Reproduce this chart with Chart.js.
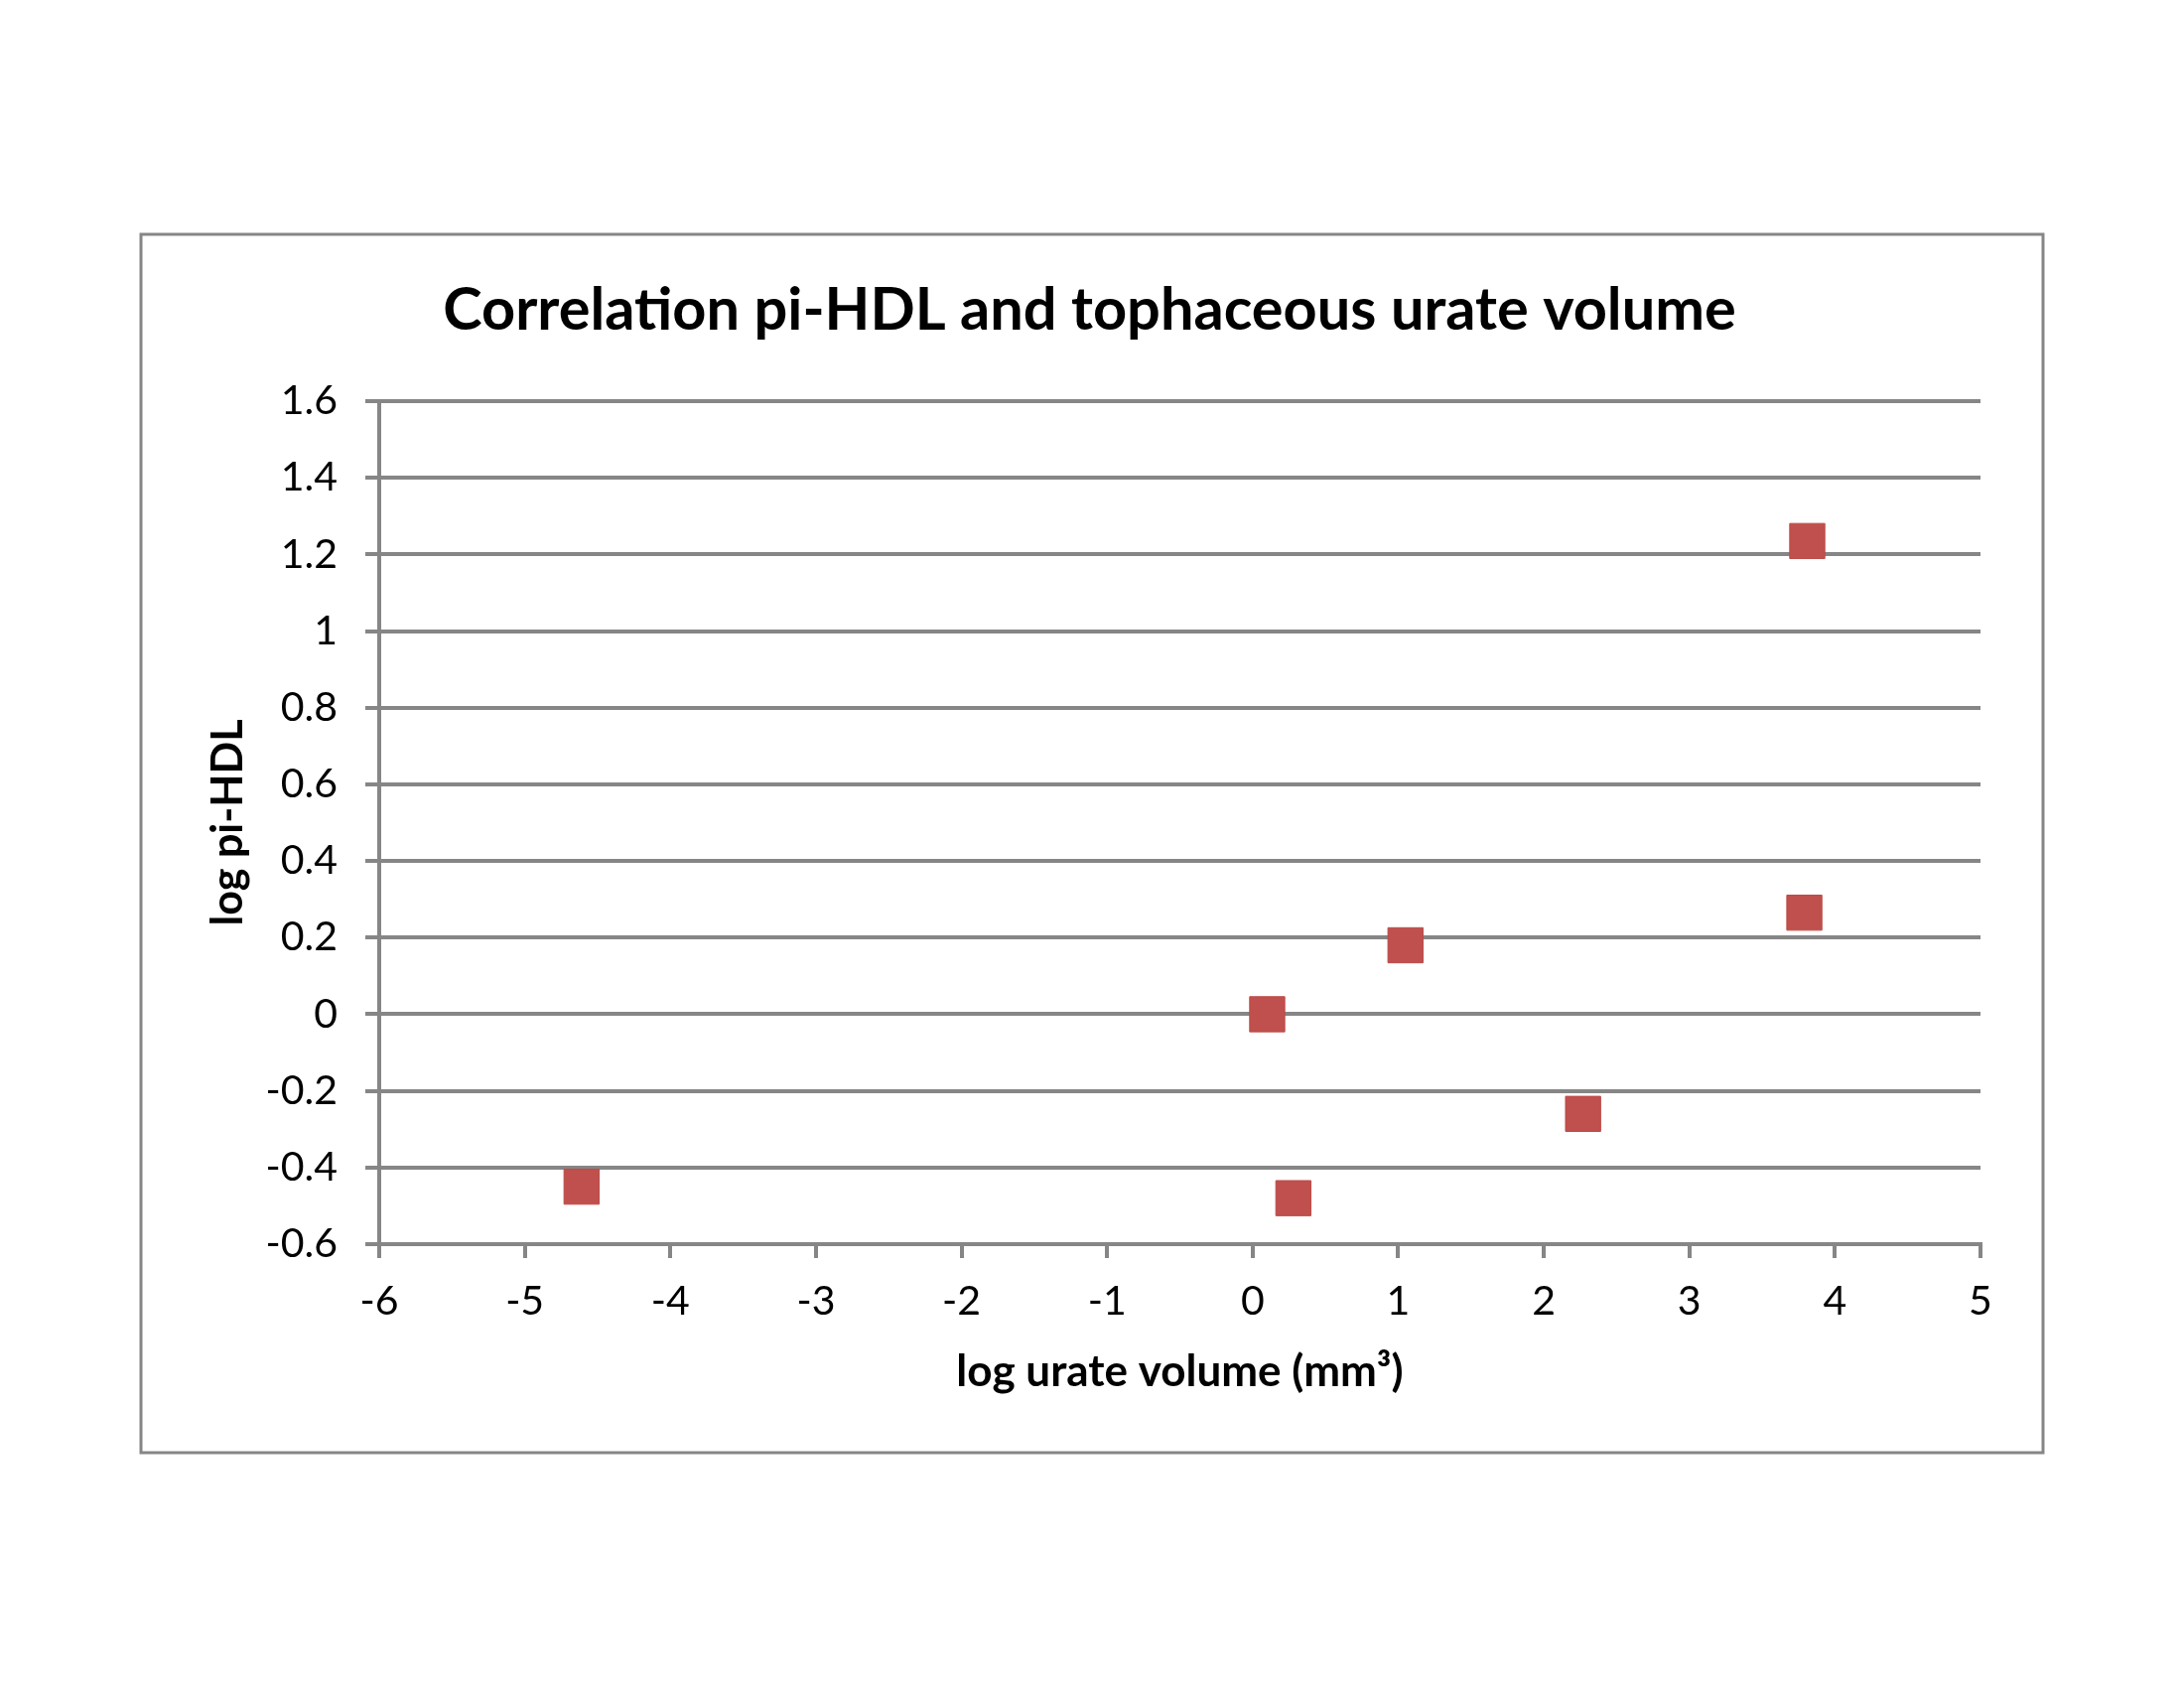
<!DOCTYPE html>
<html>
<head>
<meta charset="utf-8">
<script src="https://cdn.jsdelivr.net/npm/chart.js@4"></script>
<style>
  body { margin: 0; background: #fff; }
  #chart { display: block; }
</style>
</head>
<body>
<canvas id="chart" width="2200" height="1700"></canvas>
<script>
// log urate volume (mm3) vs log pi-HDL
const urateVolume = [-4.61, 0.1, 0.28, 1.05, 2.27, 3.79, 3.81];
const piHdl = [-0.45, 0.0, -0.48, 0.18, -0.26, 0.265, 1.235];

const xTicks = { min: -6, max: 5, step: 1 };
const yTicks = { min: -0.6, max: 1.6, step: 0.2 };

const gray = "#868686";
const font = "Lato, 'Open Sans', sans-serif";

// outer frame like the excel chart border
const frame = {
  id: "frame",
  beforeDraw(chart) {
    const ctx = chart.ctx;
    ctx.save();
    ctx.fillStyle = "#fff";
    ctx.fillRect(0, 0, chart.width, chart.height);
    ctx.strokeStyle = gray;
    ctx.lineWidth = 3;
    ctx.strokeRect(142, 236, 1916, 1227);
    ctx.restore();
  },
};

const points = urateVolume.map((x, i) => ({ x: x, y: piHdl[i] }));

new Chart("chart", {
  type: "scatter",
  data: {
    datasets: [
      {
        data: points,
        pointStyle: "rect",
        pointRadius: 25,
        pointHoverRadius: 25,
        backgroundColor: "#C0504D",
        borderColor: "#BB4B48",
        borderWidth: 1,
      },
    ],
  },
  options: {
    responsive: false,
    animation: false,
    layout: { padding: { left: 200, right: 205, top: 250, bottom: 288 } },
    plugins: {
      legend: { display: false },
      tooltip: { enabled: false },
      title: {
        display: true,
        text: "Correlation pi-HDL and tophaceous urate volume",
        color: "#000",
        font: { family: font, size: 59.5, weight: "bold" },
        padding: { top: 27, bottom: 55.6 },
      },
    },
    scales: {
      x: {
        type: "linear",
        min: xTicks.min,
        max: xTicks.max,
        ticks: {
          stepSize: xTicks.step,
          color: "#000",
          padding: 19,
          font: { family: font, size: 41 },
        },
        grid: {
          drawOnChartArea: false,
          drawTicks: true,
          tickLength: 14,
          color: gray,
          lineWidth: 4,
        },
        border: { display: true, color: gray, width: 4 },
        title: {
          display: true,
          text: "log urate volume (mm\u00B3)",
          color: "#000",
          font: { family: font, size: 44, weight: "bold" },
        },
        afterFit(scale) {
          scale.height = 159;
          scale.paddingLeft = 0;
          scale.paddingRight = 0;
        },
      },
      y: {
        type: "linear",
        min: yTicks.min,
        max: yTicks.max,
        ticks: {
          stepSize: yTicks.step,
          color: "#000",
          padding: 28,
          font: { family: font, size: 41 },
          callback: (v) => String(Math.round(v * 10) / 10),
        },
        grid: {
          drawTicks: true,
          tickLength: 14,
          color: gray,
          lineWidth: 4,
        },
        border: { display: true, color: gray, width: 4 },
        title: {
          display: true,
          text: "log pi-HDL",
          color: "#000",
          font: { family: font, size: 43, weight: "bold" },
        },
        afterFit(scale) {
          scale.width = 182;
        },
      },
    },
  },
  plugins: [frame],
});
</script>
</body>
</html>
